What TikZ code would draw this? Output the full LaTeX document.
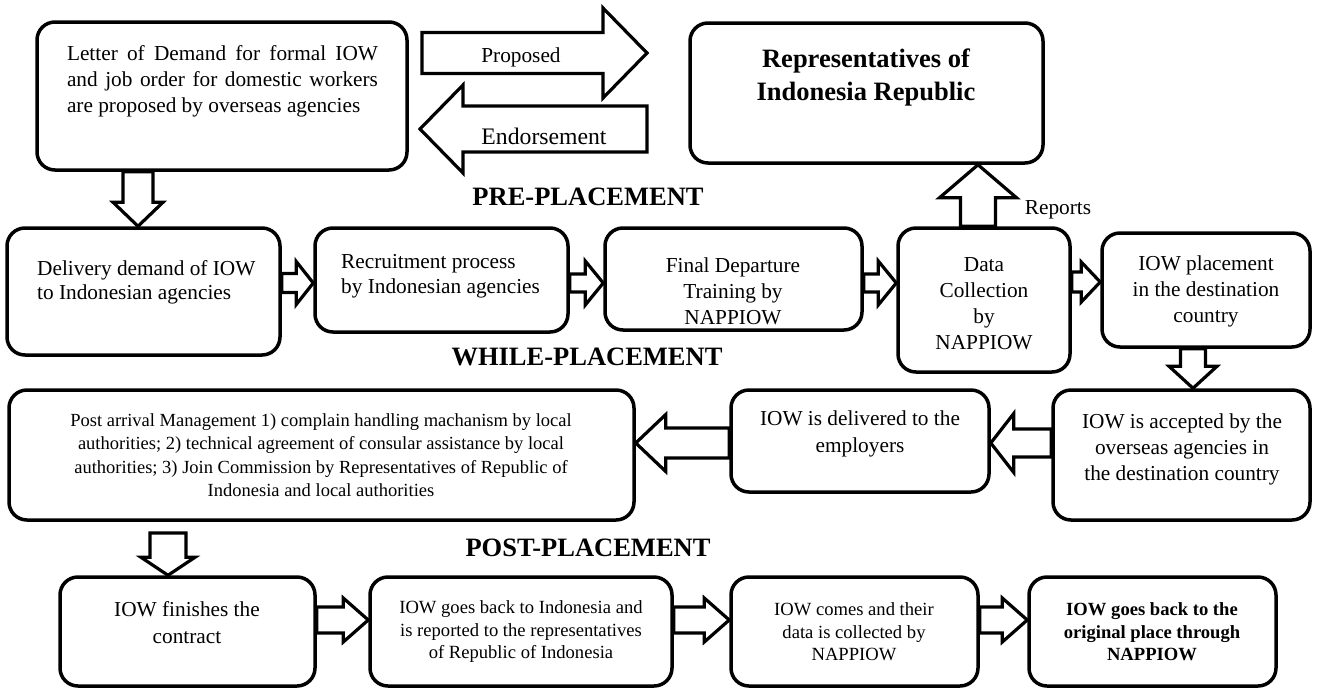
\documentclass[tikz,border=0pt]{standalone}
\usepackage{fontspec}
\setmainfont{Liberation Serif}
\usetikzlibrary{calc}

% outlined block arrow: tail, tip, half shaft, half head, head length
\newcommand{\blockarrow}[5]{%
  \coordinate (ba-h) at ($#2!#5!#1$);
  \draw[blockline] ($#1!#3!90:#2$) -- ($(ba-h)!#3!90:#2$) -- ($(ba-h)!#4!90:#2$) -- #2
    -- ($(ba-h)!#4!-90:#2$) -- ($(ba-h)!#3!-90:#2$) -- ($#1!#3!-90:#2$) -- cycle;}

\tikzset{
  stage/.style={draw, line width=3.5pt, rounded corners=18pt, inner sep=0pt},
  blockline/.style={fill=white, line width=3.2pt, line join=miter},
  txt/.style={inner sep=0pt, align=center, font=\fontsize{21.3}{26}\selectfont},
  smalltxt/.style={inner sep=0pt, align=center, font=\fontsize{18.6}{22.5}\selectfont},
  phase/.style={inner sep=0pt, align=center, font=\fontsize{26.5}{33}\selectfont\bfseries},
}

\begin{document}
\begin{tikzpicture}[x=1pt,y=1pt,yscale=-1,xscale=1]
\useasboundingbox (0,0) rectangle (1318,689);

%Shape: Rounded Rect [pre-placement]
\node[stage, minimum width=370pt, minimum height=148pt] (lod) at (222,96) {};
\node[stage, minimum width=353pt, minimum height=140pt] (rep) at (866.5,93) {};
%Shape: Rounded Rect [row 2]
\node[stage, minimum width=273pt, minimum height=127pt] (dlv) at (143.5,291.5) {};
\node[stage, minimum width=253pt, minimum height=104pt] (rec) at (441.5,280) {};
\node[stage, minimum width=257pt, minimum height=102pt] (fin) at (733.5,279) {};
\node[stage, minimum width=172pt, minimum height=144pt] (dat) at (984,300) {};
\node[stage, minimum width=208pt, minimum height=114pt] (plc) at (1206,290) {};
%Shape: Rounded Rect [while-placement]
\node[stage, minimum width=625pt, minimum height=130pt] (post) at (321.5,455) {};
\node[stage, minimum width=258pt, minimum height=102pt] (dlvd) at (860,441) {};
\node[stage, minimum width=257pt, minimum height=130pt] (acc) at (1181.5,455) {};
%Shape: Rounded Rect [post-placement]
\node[stage, minimum width=255pt, minimum height=109pt] (fns) at (187.5,631.5) {};
\node[stage, minimum width=302pt, minimum height=109pt] (gbk) at (521,631.5) {};
\node[stage, minimum width=247pt, minimum height=109pt] (cms) at (854.5,631.5) {};
\node[stage, minimum width=247pt, minimum height=109pt] (orig) at (1152.5,631.5) {};

%Block Arrows
\coordinate (propS) at (422,53);
\coordinate (propE) at (647,53);
\blockarrow{(propS)}{(propE)}{20.5pt}{45pt}{44pt}
\coordinate (endoS) at (647,129);
\coordinate (endoE) at (420,129);
\blockarrow{(endoS)}{(endoE)}{23pt}{44pt}{43pt}
\blockarrow{(lod.south -| 138,0)}{(dlv.north -| 138,0)}{15pt}{25pt}{24pt}
\blockarrow{(dlv.east |- 0,283)}{(rec.west |- 0,283)}{9.5pt}{21.5pt}{17pt}
\blockarrow{(rec.east |- 0,283)}{(fin.west |- 0,283)}{9pt}{22pt}{18pt}
\blockarrow{(fin.east |- 0,283)}{(dat.west |- 0,283)}{9pt}{22pt}{18pt}
\blockarrow{(dat.east |- 0,282)}{(plc.west |- 0,282)}{10pt}{20pt}{19pt}
\blockarrow{(dat.north -| 978,0)}{(rep.south -| 978,0)}{17.5pt}{38.5pt}{33pt}
\blockarrow{(plc.south -| 1193,0)}{(acc.north -| 1193,0)}{12.5pt}{24pt}{22pt}
\blockarrow{(acc.west |- 0,443)}{(dlvd.east |- 0,443)}{14pt}{29.5pt}{23pt}
\blockarrow{(dlvd.west |- 0,443)}{(post.east |- 0,443)}{15pt}{28.5pt}{30pt}
\coordinate (postdn) at (168,533);
\blockarrow{(postdn)}{(fns.north -| 168,0)}{18pt}{27pt}{18pt}
\blockarrow{(fns.east |- 0,620)}{(gbk.west |- 0,620)}{13pt}{22pt}{25pt}
\blockarrow{(gbk.east |- 0,620)}{(cms.west |- 0,620)}{13pt}{22pt}{25pt}
\blockarrow{(cms.east |- 0,620)}{(orig.west |- 0,620)}{13pt}{22pt}{25pt}

% Text Node
\node[txt, text width=311pt, align=justify] (lodtxt) at (222.5,81) {Letter of Demand for formal IOW\linebreak and job order for domestic workers\linebreak are proposed by overseas agencies};
% Text Node
\node[txt] (prop) at (521,57) {Proposed};
% Text Node
\node[txt, font=\fontsize{23.7}{28}\selectfont] (endo) at (544,136) {Endorsement};
% Text Node
\node[phase] (reptxt) at (866,77) {Representatives of\\Indonesia Republic};
% Text Node
\node[phase] (pre) at (588,197) {PRE-PLACEMENT};
% Text Node
\node[txt, align=left, anchor=west, font=\fontsize{21.3}{24}\selectfont] (dlvtxt) at (37,282) {Delivery demand of IOW\\to Indonesian agencies};
% Text Node
\node[txt, align=left, anchor=west, font=\fontsize{21.3}{25}\selectfont] (rectxt) at (341,276) {Recruitment process\\by Indonesian agencies};
% Text Node
\node[txt] (fintxt) at (733,291) {Final Departure\\Training by\\NAPPIOW};
% Text Node
\node[txt] (dattxt) at (984,304) {Data\\Collection\\by\\NAPPIOW};
% Text Node
\node[txt] (plctxt) at (1206,291) {IOW placement\\in the destination\\country};
% Text Node
\node[txt] (rpt) at (1058,210) {Reports};
% Text Node
\node[phase] (while) at (587,357) {WHILE-PLACEMENT};
% Text Node
\node[smalltxt, font=\fontsize{18.5}{23.5}\selectfont] (posttxt) at (321,455) {Post arrival Management 1) complain handling machanism by local\\authorities; 2) technical agreement of consular assistance by local\\authorities; 3) Join Commission by Representatives of Republic of\\Indonesia and local authorities};
% Text Node
\node[txt, font=\fontsize{21.3}{27}\selectfont] (dlvdtxt) at (860,434) {IOW is delivered to the\\employers};
% Text Node
\node[txt] (acctxt) at (1182,449) {IOW is accepted by the\\overseas agencies in\\the destination country};
% Text Node
\node[phase] (postph) at (588,548) {POST-PLACEMENT};
% Text Node
\node[txt, font=\fontsize{21.3}{27}\selectfont] (fnstxt) at (187,623) {IOW finishes the\\contract};
% Text Node
\node[smalltxt] (gbktxt) at (521,632) {IOW goes back to Indonesia and\\is reported to the representatives\\of Republic of Indonesia};
% Text Node
\node[smalltxt] (cmstxt) at (854,632) {IOW comes and their\\data is collected by\\NAPPIOW};
% Text Node
\node[smalltxt, font=\fontsize{18.6}{22.5}\selectfont\bfseries] (origtxt) at (1152,632) {IOW goes back to the\\original place through\\NAPPIOW};
\end{tikzpicture}
\end{document}
